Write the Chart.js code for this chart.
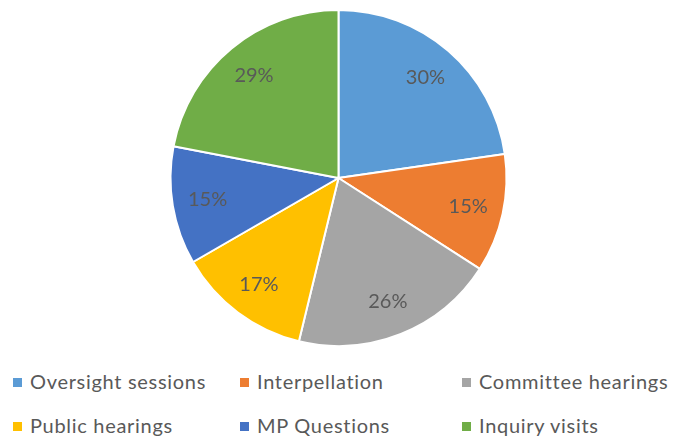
<!DOCTYPE html>
<html>
<head>
<meta charset="utf-8">
<script src="https://cdn.jsdelivr.net/npm/chart.js@4"></script>
<style>
    body { margin: 0; background: #fff; font-family: Lato, "Open Sans", sans-serif; }
    #wrap { position: relative; width: 677px; height: 440px; }
    #pieBox { position: absolute; left: 0; top: 9px; width: 677px; height: 338px; }
    .item { position: absolute; font-size: 20px; letter-spacing: 0.7px; color: #595959; white-space: nowrap; line-height: 22px; }
    .item span.box { display: inline-block; width: 9px; height: 9px; margin-right: 8px; vertical-align: 2px; }
</style>
</head>
<body>
<div id="wrap">
    <div id="pieBox"><canvas id="pie"></canvas></div>
    <div id="legend"></div>
</div>
<script>
let categories = ["Oversight sessions", "Interpellation", "Committee hearings", "Public hearings", "MP Questions", "Inquiry visits"];
let values = [30, 15, 26, 17, 15, 29];
let colors = ["#5B9BD5", "#ED7D31", "#A5A5A5", "#FFC000", "#4472C4", "#70AD47"];

// legend positions, 3 per row
let legendX = [13, 240, 462];
let legendY = [370, 414];

let legend = document.getElementById("legend");
categories.forEach((name, i) => {
    let div = document.createElement("div");
    div.className = "item";
    div.style.left = legendX[i % 3] + "px";
    div.style.top = legendY[Math.floor(i / 3)] + "px";
    div.innerHTML = `<span class="box" style="background:${colors[i]}"></span>${name}`;
    legend.appendChild(div);
});

let labelPlugin = {
    id: "sliceLabels",
    afterDatasetsDraw(chart) {
        let ctx = chart.ctx;
        let meta = chart.getDatasetMeta(0);
        ctx.save();
        ctx.font = "20px Lato, 'Open Sans', sans-serif";
        ctx.fillStyle = "#595959";
        ctx.textAlign = "center";
        ctx.textBaseline = "middle";
        meta.data.forEach((arc, i) => {
            let mid = (arc.startAngle + arc.endAngle) / 2;
            let r = arc.outerRadius * 0.79;
            ctx.fillText(values[i] + "%", arc.x + Math.cos(mid) * r, arc.y + Math.sin(mid) * r);
        });
        ctx.restore();
    }
};

new Chart(document.getElementById("pie"), {
    type: "pie",
    data: {
        labels: categories,
        datasets: [{
            data: values,
            backgroundColor: colors,
            borderColor: "#ffffff",
            borderWidth: 2
        }]
    },
    options: {
        responsive: true,
        maintainAspectRatio: false,
        animation: false,
        layout: { padding: 0 },
        plugins: {
            legend: { display: false },
            tooltip: { enabled: false }
        }
    },
    plugins: [labelPlugin]
});
</script>
</body>
</html>
